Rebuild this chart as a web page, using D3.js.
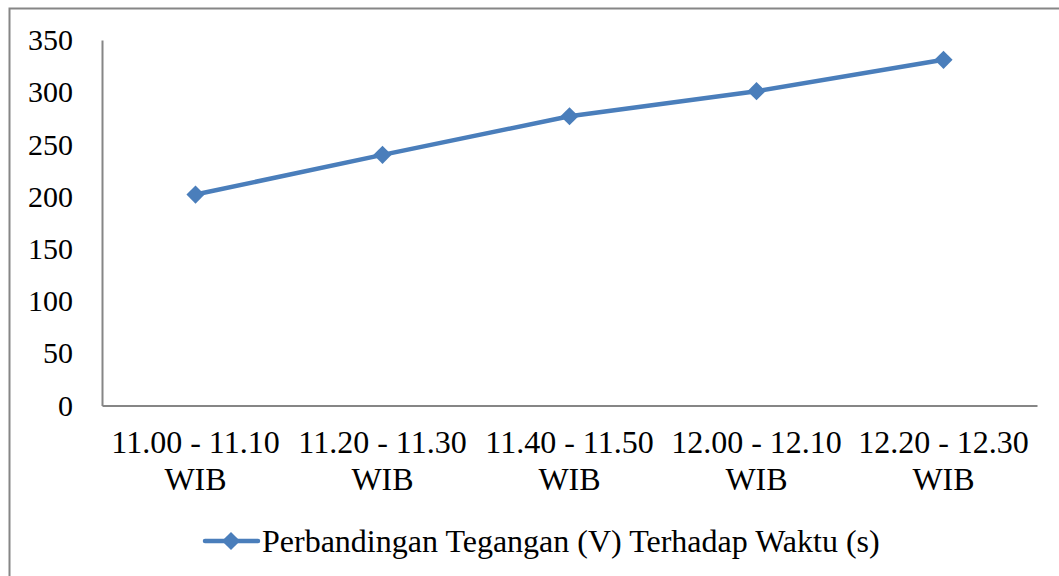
<!DOCTYPE html>
<html>
<head>
<meta charset="utf-8">
<script src="https://cdn.jsdelivr.net/npm/d3@7"></script>
<style>
  html, body { margin: 0; padding: 0; background: #fff; overflow: hidden; }
  svg text { font-family: "Liberation Serif", "Times New Roman", serif; fill: #000; }
</style>
</head>
<body>
<script>
  // data
  const categories = ["11.00 - 11.10 WIB", "11.20 - 11.30 WIB", "11.40 - 11.50 WIB", "12.00 - 12.10 WIB", "12.20 - 12.30 WIB"];
  const values = [202, 240, 277, 301, 331];
  const yTicks = [0, 50, 100, 150, 200, 250, 300, 350];
  const seriesName = "Perbandingan Tegangan (V) Terhadap Waktu (s)";

  (() => {
    const w = 1059, h = 576;
    const padL = 102, padR = 1037, padT = 40, padB = 405.5;
    const blue = "#4a7ebb";
    const grey = "#868686";

    const svg = d3.select("body").append("svg")
      .attr("width", w)
      .attr("height", h)
      .style("display", "block");

    // outer chart frame
    svg.append("rect")
      .attr("x", 9.5).attr("y", 8.5)
      .attr("width", w + 10).attr("height", h + 10)
      .attr("fill", "none")
      .attr("stroke", grey)
      .attr("stroke-width", 2);

    const xScale = d3.scaleBand().domain(categories).range([padL, padR]);
    const yScale = d3.scaleLinear().domain([0, 350]).range([padB, padT]);

    // y axis
    const yAxis = svg.append("g")
      .attr("transform", "translate(" + padL + ",0)")
      .call(d3.axisLeft(yScale).tickValues(yTicks).tickSize(0).tickPadding(29));
    yAxis.select(".domain").attr("stroke", grey).attr("stroke-width", 2);
    yAxis.selectAll("text").attr("font-size", 30).attr("fill", "#000")
      .style("font-family", "'Liberation Serif', serif");

    // x axis
    const xAxis = svg.append("g")
      .attr("transform", "translate(0," + padB + ")")
      .call(d3.axisBottom(xScale).tickSize(0).tickFormat(""));
    xAxis.select(".domain").attr("stroke", grey).attr("stroke-width", 2);

    // two-line category labels
    const lbl = svg.append("g").selectAll("text")
      .data(categories)
      .join("text")
      .attr("x", d => xScale(d) + xScale.bandwidth() / 2)
      .attr("y", 453)
      .attr("text-anchor", "middle")
      .attr("font-size", 32);
    lbl.append("tspan").text(d => d.replace(" WIB", ""));
    lbl.append("tspan")
      .attr("x", d => xScale(d) + xScale.bandwidth() / 2)
      .attr("dy", 37)
      .text("WIB");

    const pts = categories.map((c, i) => [xScale(c) + xScale.bandwidth() / 2, yScale(values[i])]);

    svg.append("path")
      .datum(pts)
      .attr("fill", "none")
      .attr("stroke", blue)
      .attr("stroke-width", 4.5)
      .attr("stroke-linejoin", "round")
      .attr("d", d3.line());

    const diamond = d3.symbol().type(d3.symbolDiamond2).size(210);
    svg.append("g").selectAll("path")
      .data(pts)
      .join("path")
      .attr("transform", d => "translate(" + d[0] + "," + d[1] + ")")
      .attr("d", diamond)
      .attr("fill", blue);

    // legend
    const lg = svg.append("g");
    lg.append("line")
      .attr("x1", 205).attr("x2", 258)
      .attr("y1", 541).attr("y2", 541)
      .attr("stroke", blue).attr("stroke-width", 4.5)
      .attr("stroke-linecap", "round");
    lg.append("path")
      .attr("transform", "translate(231,541)")
      .attr("d", diamond)
      .attr("fill", blue);
    lg.append("text")
      .attr("x", 262).attr("y", 552)
      .attr("font-size", 32)
      .text(seriesName);
  })();
</script>
</body>
</html>
